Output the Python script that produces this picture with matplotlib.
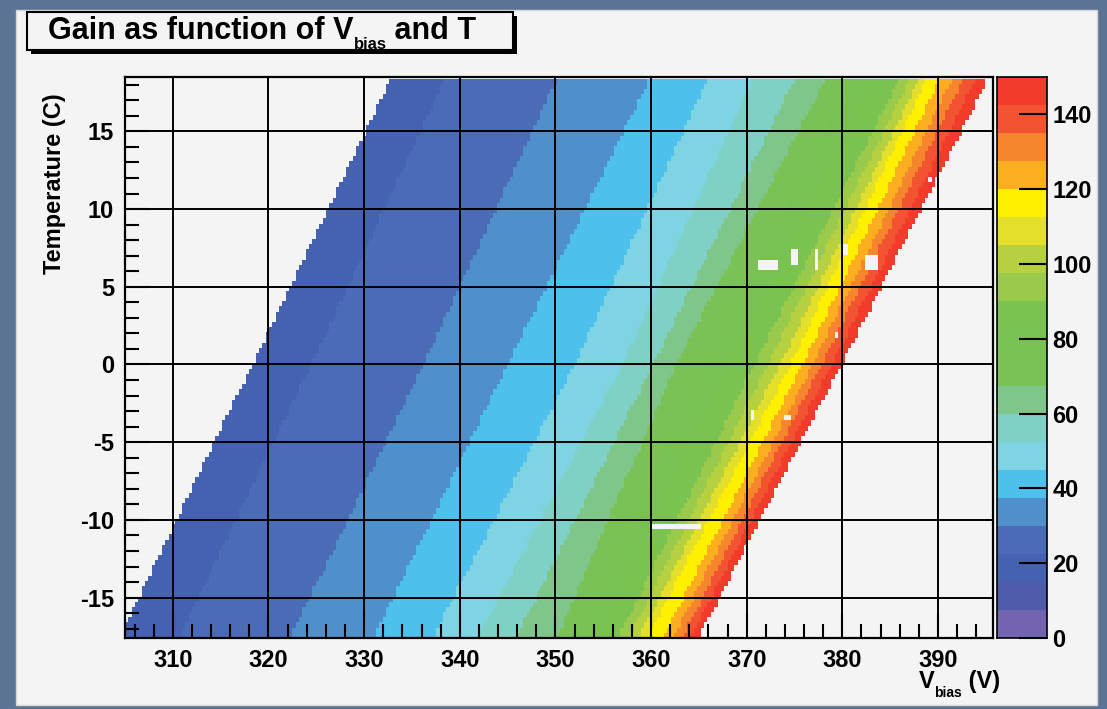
import numpy as np
import matplotlib
matplotlib.use("Agg")
import matplotlib.pyplot as plt
from matplotlib.colors import ListedColormap, BoundaryNorm
from matplotlib.patches import Rectangle

# ---------------- data ----------------
# colour levels of the palette (ROOT: 20 contours from 0 to 150)
palette_levels = [0, 7.5, 15, 22.5, 30, 37.5, 45, 52.5, 60, 67.5, 75, 82.5,
                  90, 97.5, 105, 112.5, 120, 127.5, 135, 142.5, 150]
palette_colors = ['#7264b0', '#4c5cab', '#4561b1', '#4a6bb6', '#4f90cb',
                  '#4dc0ec', '#7fd4e4', '#7ed1c4', '#7fc68a', '#7bc256',
                  '#77c251', '#7bc350', '#99ca4b', '#b6d13f', '#e4df2b',
                  '#fff000', '#fbae1f', '#f5862e', '#f25432', '#f23b2b']

# gain iso-levels (band boundaries) and the Vbias where they are crossed,
# read at three temperature rows
gain_levels = [15.0, 22.5, 30.0, 37.5, 45.0, 52.5, 60.0, 67.5, 75.0, 82.5,
               90.0, 97.5, 105.0, 112.5, 120.0, 127.5, 135.0, 142.5, 150.0]
T_rows = [-17.3, 0.0, 18.2]
vbias_at_Tm17 = [304.6, 310.8, 322.5, 331.2, 337.4, 342.1, 346.1, 350.3, 352.8,
                 355.0, 356.8, 357.9, 358.9, 359.8, 361.5, 362.5, 363.5, 364.3, 365.2]
vbias_at_T0 = [318.3, 324.5, 336.2, 345.0, 352.0, 357.0, 360.2, 362.6, 365.5,
               368.3, 370.8, 372.2, 373.5, 374.6, 375.8, 376.9, 377.8, 378.9, 379.9]
vbias_at_T18 = [332.7, 338.3, 350.0, 359.7, 365.8, 370.5, 374.9, 378.1, 380.9,
                383.5, 385.8, 386.9, 387.9, 388.7, 390.1, 391.3, 392.5, 393.8, 395.1]

# empty (white) cells: (V min, V max, T min, T max)
empty_cells = [(371.2, 373.3, 5.9, 6.6), (374.7, 375.5, 6.4, 7.3),
               (377.1, 377.6, 5.9, 7.4), (380.0, 380.5, 7.0, 7.8),
               (382.5, 383.6, 5.9, 6.9), (379.3, 379.7, 1.8, 2.1),
               (366.2, 366.7, -3.1, -2.8), (370.4, 370.9, -3.7, -2.8),
               (374.0, 374.5, -3.7, -3.4), (360.1, 365.3, -10.5, -10.2),
               (389.0, 389.4, 11.8, 12.2)]

x_ticks = [310, 320, 330, 340, 350, 360, 370, 380, 390]
y_ticks = [-15, -10, -5, 0, 5, 10, 15]
cbar_ticks = [0, 20, 40, 60, 80, 100, 120, 140]

# ---------------- build the histogram cells ----------------
v_edges = np.arange(305.0, 395.9, 0.35)
t_edges = np.arange(-17.6, 18.55, 1.0 / 3.0)
v_c = 0.5 * (v_edges[:-1] + v_edges[1:])
t_c = 0.5 * (t_edges[:-1] + t_edges[1:])
table = np.array([vbias_at_Tm17, vbias_at_T0, vbias_at_T18])
mids = 0.5 * (np.array(gain_levels[:-1]) + np.array(gain_levels[1:]))

Z = np.full((len(t_c), len(v_c)), np.nan)
for i, t in enumerate(t_c):
    bnd = np.array([np.interp(t, T_rows, table[:, k]) for k in range(len(gain_levels))])
    idx = np.searchsorted(bnd, v_c)
    ok = (idx > 0) & (idx < len(bnd))
    Z[i, ok] = mids[idx[ok] - 1]
for (v0, v1, t0, t1) in empty_cells:
    m_t = (t_c >= t0) & (t_c <= t1)
    m_v = (v_c >= v0) & (v_c <= v1)
    Z[np.ix_(m_t, m_v)] = np.nan

# ---------------- figure ----------------
plt.rcParams['font.family'] = ['Liberation Sans', 'DejaVu Sans']
plt.rcParams['font.weight'] = 'bold'
plt.rcParams['axes.unicode_minus'] = False

W, H = 1107, 709
fig = plt.figure(figsize=(W / 100, H / 100), dpi=100)
fig.patch.set_facecolor('#5b7394')
panel_bg = '#f4f4f4'
fig.patches.append(Rectangle((16 / W, 1 - 705 / H), (1097 - 16) / W, (705 - 10) / H,
                             transform=fig.transFigure, facecolor=panel_bg,
                             edgecolor='#d8d8d8', lw=1, zorder=-5))

def fx(px):
    return px / W

def fy(py):
    return 1 - py / H

ax = fig.add_axes([fx(125), fy(638), (993 - 125) / W, (638 - 77) / H], zorder=1)
ax.set_facecolor(panel_bg)
cmap = ListedColormap(palette_colors)
norm = BoundaryNorm(palette_levels, cmap.N)
ax.pcolormesh(v_edges, t_edges, np.ma.masked_invalid(Z), cmap=cmap, norm=norm,
              shading='flat', zorder=1)
ax.set_xlim(305.0, 395.75)
ax.set_ylim(-17.6, 18.5)
ax.set_xticks(x_ticks)
ax.set_yticks(y_ticks)
ax.set_xticks(np.arange(306, 396, 2), minor=True)
ax.set_yticks(np.arange(-17, 19, 1), minor=True)
ax.tick_params(which='both', direction='in', top=False, right=False, width=1.5,
               colors='black', labelsize=17)
ax.tick_params(which='major', length=18, pad=8)
ax.tick_params(which='minor', length=10)
ax.grid(True, which='major', color='black', lw=1.4)
for s in ax.spines.values():
    s.set_linewidth(1.6)
for lab in ax.get_xticklabels() + ax.get_yticklabels():
    lab.set_fontweight('bold')

# colour bar
cax = fig.add_axes([fx(997), fy(638), (1047 - 997) / W, (638 - 77) / H], zorder=1)
lv = np.array(palette_levels)
cax.pcolormesh([0, 1], lv, (0.5 * (lv[:-1] + lv[1:]))[:, None], cmap=cmap, norm=norm)
cax.set_xlim(0, 1)
cax.set_ylim(0, 150)
cax.set_xticks([])
cax.set_yticks(cbar_ticks)
cax.yaxis.set_ticks_position('right')
cax.tick_params(axis='y', direction='in', length=20, width=1.5, pad=4, labelsize=17)
for lab in cax.get_yticklabels():
    lab.set_fontweight('bold')
for s in cax.spines.values():
    s.set_linewidth(1.2)

# helper: text made of pieces (main text / lowered subscript), in pixel coordinates
renderer = fig.canvas.get_renderer()

def pieces_text(x_px, base_px, pieces, align='left'):
    widths = []
    for txt, size, dy in pieces:
        t = fig.text(0, 0, txt, fontsize=size, fontweight='bold')
        widths.append(t.get_window_extent(renderer).width)
        t.remove()
    total = sum(widths)
    x = x_px - total if align == 'right' else x_px
    for (txt, size, dy), w in zip(pieces, widths):
        fig.text(fx(x), fy(base_px + dy), txt, fontsize=size, fontweight='bold',
                 ha='left', va='baseline', zorder=5)
        x += w

# axis titles
pieces_text(1000, 688, [('V', 17, 0), ('bias', 10, 9), (' (V)', 17, 0)], align='right')
fig.text(fx(55), fy(93), 'Temperature (C)', rotation=90, ha='center', va='top',
         fontsize=17, fontweight='bold')

# title box with shadow
bx0, bx1, by0, by1 = 27, 513, 12, 50
fig.patches.append(Rectangle((fx(bx0 + 4), fy(by1 + 4)), (bx1 - bx0) / W, (by1 - by0) / H,
                             transform=fig.transFigure, facecolor='black',
                             edgecolor='black', lw=0, zorder=2))
fig.patches.append(Rectangle((fx(bx0), fy(by1)), (bx1 - bx0) / W, (by1 - by0) / H,
                             transform=fig.transFigure, facecolor=panel_bg,
                             edgecolor='black', lw=1.5, zorder=3))
pieces_text(48, 39, [('Gain as function of V', 22, 0), ('bias', 12, 10), (' and T', 22, 0)])

fig.savefig('out.png', dpi=100, facecolor=fig.get_facecolor())
